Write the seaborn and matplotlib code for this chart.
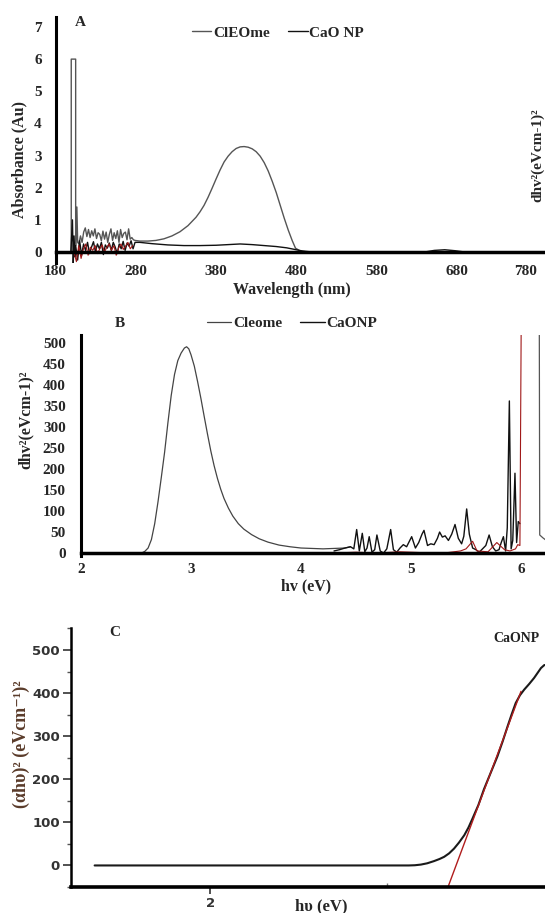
import numpy as np
import pandas as pd
import seaborn as sns
import matplotlib.pyplot as plt

W, H = 545, 913

# ---------------- panel A : absorbance spectra ----------------
# ClEOme : spike, noisy start, then the broad peak
cle_head_wl = [196, 199.5, 199.5, 205, 205, 206.5, 207.5]
cle_head_abs = [0, 0, 6.0, 6.0, 0.2, 1.4, 0.3]
cle_noise = [0.25, 0.5, 0.3, 0.62, 0.75, 0.48, 0.7, 0.45, 0.66, 0.5, 0.72, 0.42,
             0.6, 0.55, 0.35, 0.65, 0.4, 0.62, 0.3, 0.55, 0.72, 0.36, 0.6, 0.42,
             0.66, 0.3, 0.7, 0.45, 0.58, 0.62, 0.38, 0.72, 0.4, 0.45, 0.38, 0.36]
cle_tail_wl = [285, 295, 305, 315, 325, 335, 345, 355, 360, 365,
               370, 375, 380, 385, 390, 395, 400, 405, 410, 415,
               420, 425, 430, 435, 440, 445, 450, 455, 460, 465,
               470, 475, 479, 485, 495, 790]
cle_tail_abs = [0.34, 0.34, 0.36, 0.41, 0.5, 0.63, 0.82, 1.08, 1.25, 1.45,
                1.7, 1.98, 2.27, 2.55, 2.8, 2.98, 3.12, 3.22, 3.27, 3.28,
                3.26, 3.21, 3.12, 2.98, 2.78, 2.52, 2.2, 1.85, 1.45, 1.05,
                0.68, 0.35, 0.12, 0.03, 0.0, 0.0]

# CaO NP
cao_head_wl = [199, 201, 202, 203, 204]
cao_head_abs = [0, 1.0, -0.35, 0.5, -0.15]
cao_noise = [0.2, -0.25, 0.35, -0.1, 0.25, 0.05, 0.3, -0.05, 0.15, 0.32, 0.0, 0.25,
             0.1, 0.3, -0.08, 0.22, 0.12, 0.28, 0.05, 0.3, 0.15, -0.05, 0.25, 0.1,
             0.33, 0.05, 0.28, 0.18, 0.35, 0.1, 0.3]
cao_tail_wl = [285, 300, 320, 340, 360, 380, 395, 410, 425, 440, 455, 468, 478, 488,
               500, 640, 652, 665, 678, 690, 790]
cao_tail_abs = [0.3, 0.26, 0.22, 0.2, 0.2, 0.21, 0.23, 0.25, 0.23, 0.2, 0.17, 0.13,
                0.08, 0.03, 0.0, 0.0, 0.05, 0.07, 0.04, 0.0, 0.0]

red_noise_a = [0.0, -0.3, 0.2, -0.2, 0.1, 0.25, -0.1, 0.15, 0.05, 0.2, -0.05, 0.1,
               0.22, 0.0, 0.15, 0.25, 0.05, 0.2, -0.1, 0.12, 0.25, 0.08, 0.18, 0.3,
               0.1, 0.2]

wl_ticks = [180, 280, 380, 480, 580, 680, 780]
abs_ticks = [0, 1, 2, 3, 4, 5, 6, 7]

# ---------------- panel B : derivative plot ----------------
cleome_ev = [2.0, 2.55, 2.58, 2.61, 2.64, 2.67, 2.70, 2.73, 2.76, 2.79,
             2.82, 2.85, 2.88, 2.91, 2.94, 2.96, 2.98, 3.00, 3.03, 3.06,
             3.09, 3.12, 3.15, 3.18, 3.21, 3.24, 3.27, 3.30, 3.34, 3.38,
             3.43, 3.48, 3.55, 3.62, 3.70, 3.80, 3.90, 4.00, 4.20, 4.40, 4.45]
cleome_val = [0, 0, 4, 12, 32, 70, 122, 180, 240, 310,
              375, 425, 458, 476, 488, 491, 486, 472, 445, 408,
              368, 325, 283, 243, 208, 178, 152, 130, 107, 88,
              70, 57, 44, 34, 26, 19, 15, 12, 10, 12, 15]

caonp_ev = [4.30, 4.35, 4.40, 4.45, 4.48, 4.506, 4.53, 4.557, 4.58, 4.60,
            4.62, 4.645, 4.67, 4.69, 4.72, 4.75, 4.78, 4.815, 4.84, 4.87,
            4.90, 4.93, 4.96, 5.006, 5.04, 5.07, 5.10, 5.118, 5.15, 5.18,
            5.21, 5.24, 5.26, 5.285, 5.31, 5.34, 5.37, 5.40, 5.43, 5.46,
            5.48, 5.506, 5.53, 5.56, 5.59, 5.62, 5.65, 5.68, 5.71, 5.74,
            5.77, 5.80, 5.82, 5.84, 5.86, 5.875, 5.894, 5.91, 5.925, 5.945,
            5.96, 5.975, 5.99]
caonp_val = [5, 8, 12, 15, 10, 56, 5, 47, 3, 12,
             39, 2, 8, 43, 5, 0, 10, 56, 8, 2,
             12, 20, 15, 39, 12, 25, 45, 54, 18, 22,
             20, 35, 50, 38, 41, 30, 45, 68, 35, 22,
             40, 105, 45, 12, 8, 2, 10, 18, 43, 15,
             5, 8, 25, 39, 5, 60, 362, 10, 30, 190,
             25, 75, 70]

red_b_ev = [4.3, 4.5, 4.7, 4.9, 5.1, 5.3, 5.45, 5.5, 5.56, 5.6, 5.7, 5.78, 5.85,
            5.9, 5.95, 5.97, 5.99, 6.005]
red_b_val = [0, 2, 0, 3, 1, 0, 5, 10, 28, 5, 3, 25, 8, 5, 10, 20, 18, 700]
gray_b_ev = [6.165, 6.17, 6.2, 6.23]
gray_b_val = [700, 43, 36, 30]

ev_ticks_b = [2, 3, 4, 5, 6]
val_ticks_b = [0, 50, 100, 150, 200, 250, 300, 350, 400, 450, 500]

# ---------------- panel C : Tauc plot ----------------
tauc_ev = [1.672, 2.5625, 2.58, 2.597, 2.615, 2.634, 2.65, 2.663, 2.677, 2.691,
           2.705, 2.720, 2.732, 2.743, 2.76, 2.776, 2.795, 2.814, 2.829, 2.843,
           2.855, 2.866, 2.878, 2.890, 2.904, 2.918, 2.9375, 2.947, 2.96]
tauc_val = [0, 0, 0.5, 2, 5, 10, 15, 20, 28, 39,
            53, 70, 88, 108, 140, 177, 215, 253, 288, 323,
            352, 377, 395, 408, 421, 435, 458, 465, 465]
fit_ev = [2.674, 2.881]
fit_val = [-50, 404]

sns.set_style("white")
plt.rcParams['font.family'] = ['Liberation Serif', 'DejaVu Serif']
plt.rcParams['font.weight'] = 'bold'
plt.rcParams['axes.labelweight'] = 'bold'

fig = plt.figure(figsize=(W / 100, H / 100), dpi=100)


def px_axes(left, top, right, bottom):
    return fig.add_axes([left / W, 1 - bottom / H, (right - left) / W, (bottom - top) / H])


def px_text(x, y, s, **kw):
    fig.text(x / W, 1 - y / H, s, **kw)


# ---- A ----
axA = px_axes(55.6, 17, W, 263)
n1 = len(cle_noise)
cle_wl = cle_head_wl + list(np.linspace(209, 279, n1)) + cle_tail_wl
cle_abs = cle_head_abs + cle_noise + cle_tail_abs
n2 = len(cao_noise)
cao_wl = cao_head_wl + list(np.linspace(205, 279, n2)) + cao_tail_wl
cao_abs = cao_head_abs + cao_noise + cao_tail_abs
red_wl = list(np.linspace(203, 276, len(red_noise_a)))

sns.lineplot(x=cle_wl, y=cle_abs, ax=axA, color='#555555', lw=1.0, estimator=None,
             sort=False, label='ClEOme')
sns.lineplot(x=cao_wl, y=cao_abs, ax=axA, color='#111111', lw=1.0, estimator=None,
             sort=False, label='CaO NP')
sns.lineplot(x=red_wl, y=red_noise_a, ax=axA, color='#a01818', lw=0.8, estimator=None,
             sort=False, legend=False)
sns.despine(ax=axA)
axA.spines['bottom'].set_position(('data', 0))
axA.spines['bottom'].set_linewidth(2.5)
axA.spines['left'].set_linewidth(2.2)
axA.spines['left'].set_color('black')
axA.spines['bottom'].set_color('black')
axA.set_xlim(180, 790)
axA.set_ylim(-0.342, 7.31)
axA.set_xticks(wl_ticks)
axA.set_yticks(abs_ticks)
axA.tick_params(length=0, labelsize=11)
axA.tick_params(axis='x', pad=9)
axA.tick_params(axis='y', pad=10)
axA.set_xlabel('')
axA.set_ylabel('')
axA.get_xticklabels()[-1].set_ha('right')
axA.legend(loc='center', bbox_to_anchor=(0.454, 0.935), ncol=2, frameon=False,
           handlelength=1.3, handletextpad=0.1, columnspacing=1.2,
           prop={'size': 11, 'weight': 'bold'})
px_text(292, 290, 'Wavelength (nm)', ha='center', va='center', fontsize=11.5, fontweight='bold')
px_text(19, 160, 'Absorbance (Au)', ha='center', va='center', rotation=90,
        fontsize=11.5, fontweight='bold')
px_text(80, 22, 'A', ha='center', va='center', fontsize=11, fontweight='bold')
px_text(538, 155, 'dhv²(eVcm-1)²', ha='center', va='center', rotation=90,
        fontsize=11, fontweight='bold')

# ---- B ----
axB = px_axes(81, 335, W, 556)
sns.lineplot(x=cleome_ev, y=cleome_val, ax=axB, color='#444444', lw=0.9, estimator=None,
             sort=False, label='Cleome')
sns.lineplot(x=caonp_ev, y=caonp_val, ax=axB, color='#111111', lw=1.0, estimator=None,
             sort=False, label='CaONP')
sns.lineplot(x=red_b_ev, y=red_b_val, ax=axB, color='#a01818', lw=0.8, estimator=None,
             sort=False, legend=False)
sns.lineplot(x=gray_b_ev, y=gray_b_val, ax=axB, color='#555555', lw=0.9, estimator=None,
             sort=False, legend=False)
sns.despine(ax=axB)
axB.spines['bottom'].set_position(('data', 0))
axB.spines['bottom'].set_linewidth(2.5)
axB.spines['left'].set_linewidth(2.2)
axB.spines['left'].set_color('black')
axB.spines['bottom'].set_color('black')
axB.set_xlim(2, 6.218)
axB.set_ylim(-7, 519)
axB.set_xticks(ev_ticks_b)
axB.set_yticks(val_ticks_b)
axB.tick_params(length=0, labelsize=11)
axB.tick_params(axis='x', pad=7)
axB.tick_params(axis='y', pad=11)
axB.set_xlabel('')
axB.set_ylabel('')
axB.legend(loc='center', bbox_to_anchor=(0.455, 1.054), ncol=2, frameon=False,
           handlelength=1.6, handletextpad=0.1, columnspacing=1.2,
           prop={'size': 11, 'weight': 'bold'})
px_text(306, 586, 'hv (eV)', ha='center', va='center', fontsize=11.5, fontweight='bold')
px_text(26, 420, 'dhv²(eVcm-1)²', ha='center', va='center', rotation=90,
        fontsize=11.5, fontweight='bold')
px_text(120, 323, 'B', ha='center', va='center', fontsize=11, fontweight='bold')

# ---- C ----
axC = px_axes(71, 628, W, 887)
sns.lineplot(x=tauc_ev, y=tauc_val, ax=axC, color='#1a1a1a', lw=1.5, estimator=None,
             sort=False, legend=False)
sns.lineplot(x=fit_ev, y=fit_val, ax=axC, color='#b01c1c', lw=1.0, estimator=None,
             sort=False, legend=False)
sns.despine(ax=axC)
axC.spines['bottom'].set_linewidth(2.6)
axC.spines['left'].set_linewidth(1.8)
axC.spines['left'].set_color('black')
axC.spines['bottom'].set_color('black')
axC.set_xlim(1.605, 2.949)
axC.set_ylim(-46, 551)
axC.set_xticks([2])
axC.set_xticks([2.5], minor=True)
axC.set_yticks([0, 100, 200, 300, 400, 500])
axC.set_yticks([-50, 50, 150, 250, 350, 450, 550], minor=True)
axC.set_yticklabels(['0', '100', '200', '300', '400', '500'],
                    fontfamily='DejaVu Sans', fontweight='bold', fontsize=9.5, color='#333333')
axC.set_xticklabels(['2'], fontfamily='DejaVu Sans', fontweight='bold', fontsize=9.5,
                    color='#333333')
axC.tick_params(axis='y', which='major', direction='out', length=6, width=1.2,
                color='#333333', left=True, pad=2)
axC.tick_params(axis='y', which='minor', direction='out', length=3, width=1,
                color='#555555', left=True)
axC.tick_params(axis='x', which='major', direction='out', length=5, width=1.2,
                color='#333333', bottom=True, pad=2)
axC.tick_params(axis='x', which='minor', direction='in', length=3, width=1,
                color='#777777', bottom=True)
axC.set_xlabel('')
axC.set_ylabel('')
px_text(321, 906, 'hυ (eV)', ha='center', va='center', fontsize=12, fontweight='bold')
px_text(21, 744, '(αhυ)² (eVcm⁻¹)²', ha='center', va='center', rotation=90,
        fontsize=13, fontweight='bold', color='#5a3b2a')
px_text(115, 633, 'C', ha='center', va='center', fontsize=11, fontweight='bold')
px_text(493, 638, 'CaONP', ha='left', va='center', fontsize=10, fontweight='bold',
        color='#222222')

fig.savefig('out.png', dpi=100)
